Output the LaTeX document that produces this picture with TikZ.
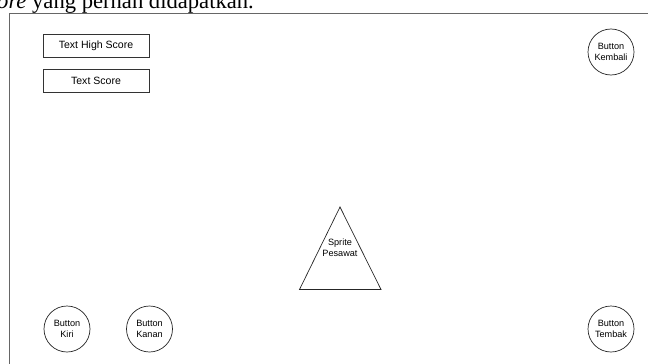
\documentclass[tikz,border=0pt]{standalone}
\usepackage{fontspec}
\setmainfont{Liberation Serif}
\setsansfont{Liberation Sans}
\usetikzlibrary{shapes,positioning,calc}

\tikzset{
  textbox/.style={draw=black!80, line width=0.6pt, minimum width=3.18cm, minimum height=0.69cm,
    inner sep=0pt, font=\sffamily\fontsize{9}{10}\selectfont},
  roundbtn/.style={draw=black!85, line width=0.6pt, circle, minimum size=1.38cm, inner sep=0pt,
    align=center, font=\sffamily\fontsize{7.8}{9}\selectfont},
}

\begin{document}
\begin{tikzpicture}[x=0.03cm, y=-0.03cm]
    \useasboundingbox (0,0) rectangle (648,363);
    \clip (0,0) rectangle (648,363);

    % Line of page text above the screen
    \node[anchor=base west, inner sep=0pt, font=\fontsize{19.3}{20}\selectfont] (caption) at (-3,9)
        {\textit{ore} yang pernah didapatkan.};

    % Screen frame
    \draw[black!60, line width=0.6pt] (650,13) -- (9.5,13) -- (9.5,366);

    % Score texts
    \node[textbox] (highscore) at (96,46) {Text High Score};
    \node[textbox] (score) at (96,80.5) {Text Score};

    % Buttons
    \node[roundbtn] (kembali) at (611,52) {Button\\Kembali};
    \node[roundbtn] (kiri) at (67,329) {Button\\Kiri};
    \node[roundbtn] (kanan) at (149.5,329) {Button\\Kanan};
    \node[roundbtn] (tembak) at (611,329) {Button\\Tembak};

    % Player sprite
    \coordinate (apex) at (340,207);
    \coordinate (baseL) at (299.5,289.5);
    \coordinate (baseR) at (381,289.5);
    \draw[black!85, line width=0.6pt, line join=miter] (apex) -- (baseL) -- (baseR) -- cycle;
    \node[align=center, inner sep=0pt, font=\sffamily\fontsize{7.8}{9}\selectfont] (pesawat) at (340,248)
        {Sprite\\Pesawat};
\end{tikzpicture}
\end{document}
